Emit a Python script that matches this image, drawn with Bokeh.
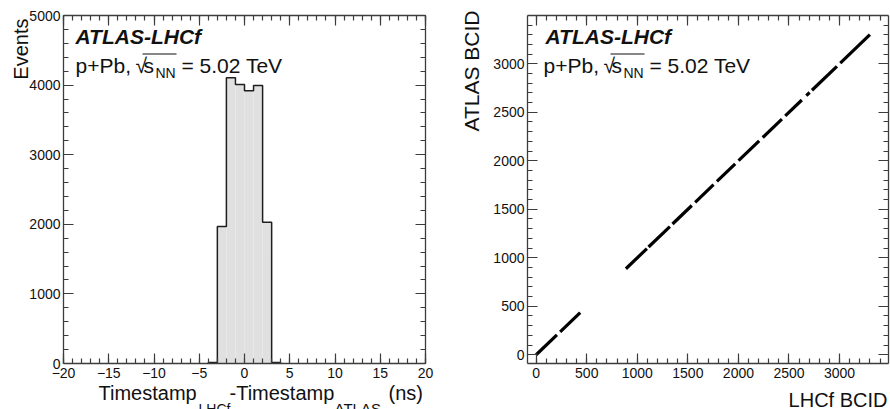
import numpy as np
from bokeh.plotting import figure
from bokeh.models import (Range1d, SingleIntervalTicker, LinearAxis, Label,
                          CustomJSTickFormatter)
from bokeh.layouts import row
from bokeh.embed import file_html
from bokeh.resources import INLINE

# ---- timing histogram (1 ns bins) ----
bin_edges = [-4, -3, -2, -1, 0, 1, 2, 3, 4]
event_counts = [15, 1970, 4105, 4010, 3918, 3995, 2030, 15]
time_ticks = [-20, -15, -10, -5, 0, 5, 10, 15, 20]

# ---- bunch-train correlation (LHCf BCID vs ATLAS BCID) ----
lhcf_train_start = [0, 237, 887, 1111, 1348, 1572, 1787, 2001, 2240, 2463, 2671, 2727, 3007]
lhcf_train_end = [205, 435, 1095, 1322, 1539, 1754, 1968, 2205, 2430, 2627, 2704, 2974, 3300]
atlas_train_start = [0, 237, 887, 1111, 1348, 1572, 1787, 2001, 2240, 2463, 2671, 2727, 3007]
atlas_train_end = [205, 435, 1095, 1322, 1539, 1754, 1968, 2205, 2430, 2627, 2704, 2974, 3300]

FONT = "Liberation Sans"
AXIS_COLOR = "#3c3c3c"
TEXT_COLOR = "#111111"
W, H = 445, 409
# labels are anchored a little below their nominal baseline; lift them by this share of the font size
BASELINE_LIFT = 0.35


class Frame:
    """Plot box of a panel: canvas pixels of its edges and the data ranges it spans."""

    def __init__(self, left, right, top, bottom, xr, yr):
        self.left, self.right, self.top, self.bottom = left, right, top, bottom
        self.xr, self.yr = xr, yr

    def x(self, px):
        return self.xr[0] + (px - self.left) / (self.right - self.left) * (self.xr[1] - self.xr[0])

    def y(self, py):
        return self.yr[1] - (py - self.top) / (self.bottom - self.top) * (self.yr[1] - self.yr[0])


def make_figure(fr):
    # the drawing area fills the whole canvas; the box is built from four
    # axes pinned to the panel edges, so titles can sit around it freely
    p = figure(width=W, height=H, output_backend="svg", toolbar_location=None,
               x_range=Range1d(fr.x(0), fr.x(W)), y_range=Range1d(fr.y(H), fr.y(0)),
               x_axis_location=None, y_axis_location=None,
               min_border=0, min_border_left=0, min_border_right=0,
               min_border_top=0, min_border_bottom=0)
    p.xgrid.visible = False
    p.ygrid.visible = False
    p.background_fill_color = "white"
    p.border_fill_color = "white"
    p.outline_line_color = None
    return p


def add_box_axes(p, fr, xticker, yticker, x_overrides=None):
    blank = CustomJSTickFormatter(code="return ''")
    bottom = LinearAxis(ticker=xticker, fixed_location=fr.yr[0], bounds=fr.xr,
                        major_label_standoff=4)
    left = LinearAxis(ticker=yticker, fixed_location=fr.xr[0], bounds=fr.yr,
                      major_label_standoff=3)
    right = LinearAxis(ticker=yticker, fixed_location=fr.xr[1], bounds=fr.yr,
                       formatter=blank, major_label_standoff=0)
    top = LinearAxis(ticker=xticker, fixed_location=fr.yr[1], bounds=fr.xr,
                     formatter=blank, major_label_standoff=0)
    if x_overrides:
        bottom.major_label_overrides = x_overrides
    for ax, side in ((bottom, "below"), (left, "left"), (right, "right"), (top, "above")):
        ax.major_tick_in = 10
        ax.major_tick_out = 0
        ax.minor_tick_in = 5
        ax.minor_tick_out = 0
        ax.axis_line_color = AXIS_COLOR
        ax.axis_line_width = 1.3
        ax.major_tick_line_color = AXIS_COLOR
        ax.minor_tick_line_color = AXIS_COLOR
        ax.major_tick_line_width = 1.2
        ax.minor_tick_line_width = 1.2
        ax.major_label_text_font = FONT
        ax.major_label_text_font_size = "14px"
        ax.major_label_text_color = TEXT_COLOR
        p.add_layout(ax, side)


def add_text(p, fr, px, py, text, size, style="normal", align="left", angle=0.0):
    if angle:
        px -= BASELINE_LIFT * size
    else:
        py -= BASELINE_LIFT * size
    p.add_layout(Label(x=fr.x(px), y=fr.y(py), text=text, text_font=FONT,
                       text_font_size=f"{size}px", text_font_style=style,
                       text_color=TEXT_COLOR, text_align=align,
                       text_baseline="alphabetic", angle=angle))


def add_header(p, fr, x_atlas, x_info):
    add_text(p, fr, x_atlas, 43, "ATLAS-LHCf", 21, style="bold italic")
    add_text(p, fr, x_info, 72, "p+Pb,", 21)
    add_text(p, fr, x_info + 60, 72, "\u221a", 21)
    add_text(p, fr, x_info + 68, 72, "s", 21)
    add_text(p, fr, x_info + 80, 77, "NN", 14)
    add_text(p, fr, x_info + 106, 72, "= 5.02 TeV", 21)
    p.line([fr.x(x_info + 67), fr.x(x_info + 101)], [fr.y(53.5), fr.y(53.5)],
           line_color=TEXT_COLOR, line_width=1.2)


# ================= left: timestamp difference =================
fl = Frame(63, 425, 15, 363, (-20, 20), (0, 5000))
left = make_figure(fl)

left.quad(left=bin_edges[:-1], right=bin_edges[1:], bottom=0, top=event_counts,
          fill_color="#e0e0e0", line_color=None)
step_x = np.repeat(bin_edges, 2)
step_y = np.concatenate([[0], np.repeat(event_counts, 2), [0]])
left.line(step_x, step_y, line_color="#1e1e1e", line_width=1.5)

add_box_axes(left, fl,
             SingleIntervalTicker(interval=5, num_minor_ticks=5),
             SingleIntervalTicker(interval=1000, num_minor_ticks=5),
             x_overrides={t: (f"\u2212{abs(t)}" if t < 0 else str(t)) for t in time_ticks})
add_header(left, fl, 75, 75)

add_text(left, fl, 27, 18, "Events", 20, align="right", angle=np.pi / 2)
add_text(left, fl, 98, 399.5, "Timestamp", 20)
add_text(left, fl, 198, 413, "LHCf", 14)
add_text(left, fl, 229, 399.5, "-Timestamp", 20)
add_text(left, fl, 334, 413, "ATLAS", 15)
add_text(left, fl, 388, 399.5, "(ns)", 20)

# ================= right: BCID correlation =================
fr = Frame(82, 443, 15, 363, (-86, 3484), (-90, 3498))
right = make_figure(fr)

right.segment(x0=lhcf_train_start, y0=atlas_train_start,
              x1=lhcf_train_end, y1=atlas_train_end,
              line_color="black", line_width=3.2, line_cap="butt")

add_box_axes(right, fr,
             SingleIntervalTicker(interval=500, num_minor_ticks=5),
             SingleIntervalTicker(interval=500, num_minor_ticks=5))
add_header(right, fr, 100, 98)

add_text(right, fr, 33, 10, "ATLAS BCID", 21, align="right", angle=np.pi / 2)
add_text(right, fr, 442, 406, "LHCf BCID", 20, align="right")

layout = row(left, right)
open("out.html", "w").write(file_html(layout, INLINE))
